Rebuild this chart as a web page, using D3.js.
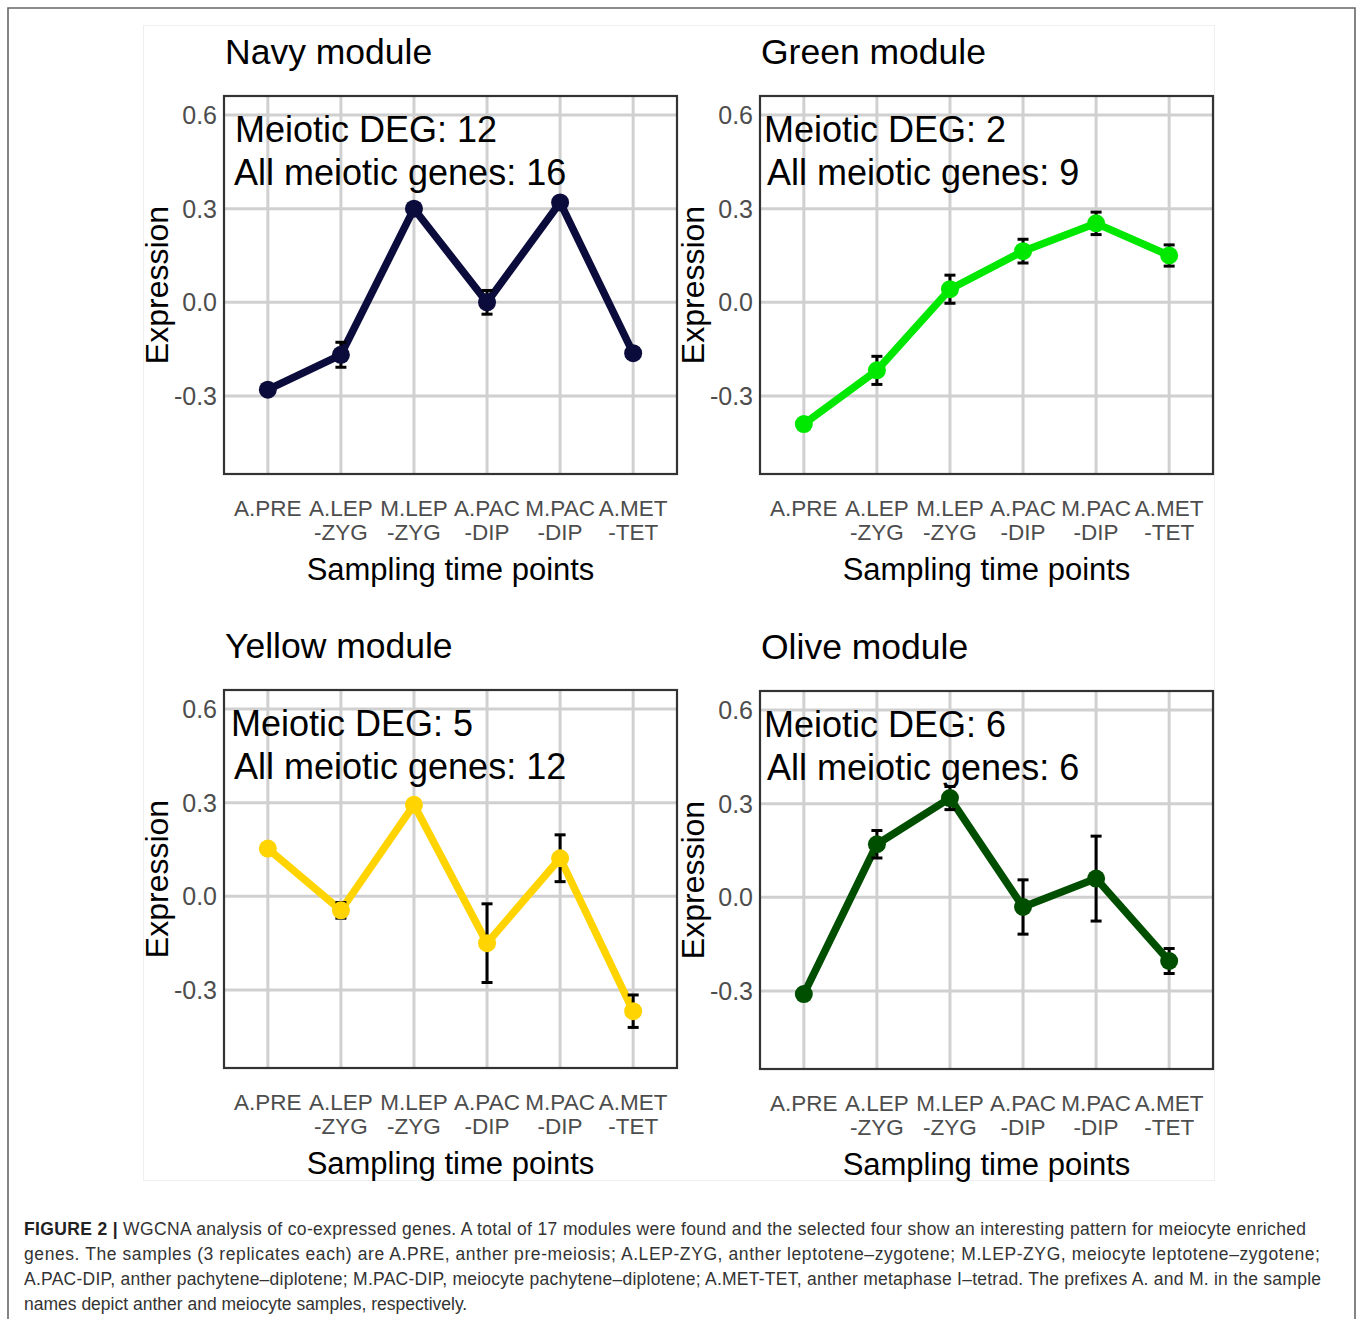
<!DOCTYPE html>
<html>
<head>
<meta charset="utf-8">
<script src="https://cdn.jsdelivr.net/npm/d3@7"></script>
<style>
  html, body { margin: 0; padding: 0; background: #fff; }
  svg { display: block; font-family: "Liberation Sans", Arial, sans-serif; }
</style>
</head>
<body>
<svg id="chart" width="1358" height="1319"></svg>
<script>
// ---------------- data ----------------
const categories = ["A.PRE", "A.LEP-ZYG", "M.LEP-ZYG", "A.PAC-DIP", "M.PAC-DIP", "A.MET-TET"];
const tickLines = [["A.PRE"], ["A.LEP", "-ZYG"], ["M.LEP", "-ZYG"], ["A.PAC", "-DIP"], ["M.PAC", "-DIP"], ["A.MET", "-TET"]];
const yTicks = [-0.3, 0.0, 0.3, 0.6];

const moduleNames = ["Navy module", "Green module", "Yellow module", "Olive module"];
const moduleColors = ["#0c0c3c", "#00e800", "#ffd400", "#004f00"];
const meioticDEG = [12, 2, 5, 6];
const allMeioticGenes = [16, 9, 12, 6];

const navyMean = [-0.280, -0.168, 0.300, 0.000, 0.320, -0.163];
const navySE   = [0.008, 0.040, 0.008, 0.038, 0.008, 0.010];
const greenMean = [-0.390, -0.218, 0.042, 0.164, 0.253, 0.150];
const greenSE   = [0.008, 0.045, 0.045, 0.038, 0.036, 0.034];
const yellowMean = [0.153, -0.045, 0.293, -0.150, 0.122, -0.368];
const yellowSE   = [0.008, 0.025, 0.008, 0.126, 0.075, 0.052];
const oliveMean = [-0.310, 0.170, 0.318, -0.031, 0.060, -0.204];
const oliveSE   = [0.008, 0.044, 0.037, 0.087, 0.136, 0.040];

const captionLines = [
  "WGCNA analysis of co-expressed genes. A total of 17 modules were found and the selected four show an interesting pattern for meiocyte enriched",
  "genes. The samples (3 replicates each) are A.PRE, anther pre-meiosis; A.LEP-ZYG, anther leptotene\u2013zygotene; M.LEP-ZYG, meiocyte leptotene\u2013zygotene;",
  "A.PAC-DIP, anther pachytene\u2013diplotene; M.PAC-DIP, meiocyte pachytene\u2013diplotene; A.MET-TET, anther metaphase I\u2013tetrad. The prefixes A. and M. in the sample",
  "names depict anther and meiocyte samples, respectively."
];

const seriesMeans = [navyMean, greenMean, yellowMean, oliveMean];
const seriesSE = [navySE, greenSE, yellowSE, oliveSE];

// ---------------- layout ----------------
const svg = d3.select("#chart");
const W = 453, H = 378;
const boxes = [{x: 224, y: 96}, {x: 760, y: 96}, {x: 224, y: 690}, {x: 760, y: 691}];
const annOffset1 = [11, 4, 7, 4];
const annOffset2 = [10, 7, 10, 7];

// outer frame
svg.append("path")
  .attr("d", "M8,1319 L8,8 L1355,8 L1355,1319")
  .attr("fill", "none").attr("stroke", "#666").attr("stroke-width", 1.6);
// faint figure frame
svg.append("rect").attr("x", 143.5).attr("y", 25.5).attr("width", 1071).attr("height", 1155)
  .attr("fill", "none").attr("stroke", "#efefef").attr("stroke-width", 1);

boxes.forEach((b, i) => {
  const g = svg.append("g");
  const x = d3.scalePoint().domain(categories).range([b.x, b.x + W]).padding(0.6);
  const y = d3.scaleLinear().domain([-0.55, 0.661]).range([b.y + H, b.y]);

  const data = categories.map((c, j) => ({c, m: seriesMeans[i][j], se: seriesSE[i][j]}));

  // grid
  g.selectAll(".hg").data(yTicks).join("line")
    .attr("x1", b.x).attr("x2", b.x + W)
    .attr("y1", d => y(d)).attr("y2", d => y(d))
    .attr("stroke", "#d0d0d0").attr("stroke-width", 3);
  g.selectAll(".vg").data(categories).join("line")
    .attr("x1", d => x(d)).attr("x2", d => x(d))
    .attr("y1", b.y).attr("y2", b.y + H)
    .attr("stroke", "#d0d0d0").attr("stroke-width", 3);

  // border
  g.append("rect").attr("x", b.x).attr("y", b.y).attr("width", W).attr("height", H)
    .attr("fill", "none").attr("stroke", "#333").attr("stroke-width", 2.2);

  // y tick labels
  g.selectAll(".yt").data(yTicks).join("text")
    .attr("x", b.x - 7).attr("y", d => y(d)).attr("dy", "0.36em")
    .attr("text-anchor", "end").attr("font-size", 25).attr("fill", "#4d4d4d")
    .text(d => d.toFixed(1));

  // x tick labels
  categories.forEach((c, j) => {
    tickLines[j].forEach((t, k) => {
      g.append("text").attr("x", x(c)).attr("y", b.y + 420 + k * 24)
        .attr("text-anchor", "middle").attr("font-size", 22.5).attr("fill", "#4d4d4d")
        .text(t);
    });
  });

  // axis titles
  g.append("text").attr("x", b.x + W / 2).attr("y", b.y + 484)
    .attr("text-anchor", "middle").attr("font-size", 31).attr("fill", "#000")
    .text("Sampling time points");
  g.append("text")
    .attr("transform", `translate(${b.x - 56},${b.y + H / 2}) rotate(-90)`)
    .attr("text-anchor", "middle").attr("font-size", 32).attr("fill", "#000")
    .text("Expression");

  // title
  g.append("text").attr("x", b.x + 1).attr("y", b.y - 32)
    .attr("font-size", 35.5).attr("fill", "#000").text(moduleNames[i]);

  // line
  const line = d3.line().x(d => x(d.c)).y(d => y(d.m));
  g.append("path").datum(data).attr("d", line)
    .attr("fill", "none").attr("stroke", moduleColors[i]).attr("stroke-width", 7.5)
    .attr("stroke-linejoin", "round");

  // error bars
  const eb = g.selectAll(".eb").data(data).join("g");
  eb.append("line").attr("x1", d => x(d.c)).attr("x2", d => x(d.c))
    .attr("y1", d => y(d.m - d.se)).attr("y2", d => y(d.m + d.se))
    .attr("stroke", "#000").attr("stroke-width", 3);
  eb.append("line").attr("x1", d => x(d.c) - 5.5).attr("x2", d => x(d.c) + 5.5)
    .attr("y1", d => y(d.m - d.se)).attr("y2", d => y(d.m - d.se))
    .attr("stroke", "#000").attr("stroke-width", 3);
  eb.append("line").attr("x1", d => x(d.c) - 5.5).attr("x2", d => x(d.c) + 5.5)
    .attr("y1", d => y(d.m + d.se)).attr("y2", d => y(d.m + d.se))
    .attr("stroke", "#000").attr("stroke-width", 3);

  // points
  g.selectAll(".pt").data(data).join("circle")
    .attr("cx", d => x(d.c)).attr("cy", d => y(d.m)).attr("r", 9)
    .attr("fill", moduleColors[i]);

  // annotations
  g.append("text").attr("x", b.x + annOffset1[i]).attr("y", b.y + 46)
    .attr("font-size", 36).attr("fill", "#000").text("Meiotic DEG: " + meioticDEG[i]);
  g.append("text").attr("x", b.x + annOffset2[i]).attr("y", b.y + 89)
    .attr("font-size", 36).attr("fill", "#000").text("All meiotic genes: " + allMeioticGenes[i]);
});

// caption
const capWidths = [1282, 1296, 1297, null];
captionLines.forEach((t, i) => {
  const tx = svg.append("text").attr("x", 24).attr("y", 1235 + i * 25)
    .attr("font-size", 17.5).attr("fill", "#333");
  if (i === 0) {
    tx.append("tspan").attr("font-weight", "bold").attr("fill", "#222").text("FIGURE 2 | ");
  }
  tx.append("tspan").text(t);
  if (capWidths[i]) tx.attr("textLength", capWidths[i]).attr("lengthAdjust", "spacing");
});
</script>
</body>
</html>
